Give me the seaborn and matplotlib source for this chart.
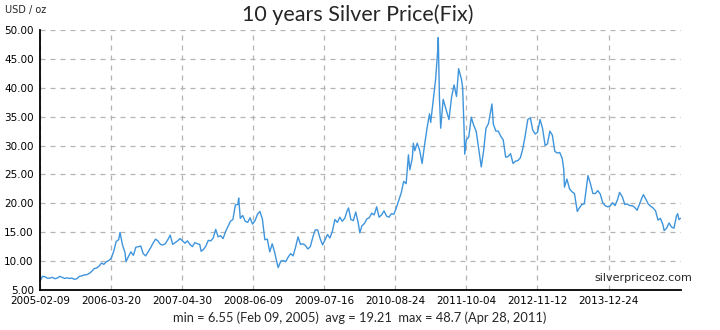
import matplotlib
matplotlib.use("Agg")
import matplotlib.pyplot as plt
import matplotlib.dates as mdates
import pandas as pd
import seaborn as sns

# Silver price (USD / oz), roughly fortnightly fixes
dates_2005 = ["2005-02-09", "2005-02-23", "2005-03-09", "2005-03-23", "2005-04-06", "2005-04-20",
              "2005-05-04", "2005-05-18", "2005-06-01", "2005-06-15", "2005-06-29", "2005-07-13",
              "2005-07-27", "2005-08-10", "2005-08-24", "2005-09-07", "2005-09-21", "2005-10-05",
              "2005-10-19", "2005-11-02", "2005-11-16", "2005-11-30", "2005-12-14", "2005-12-28"]
price_2005 = [6.55, 7.35, 7.30, 7.05, 7.05, 7.20, 6.95, 7.05, 7.35, 7.20, 7.00, 7.10,
              7.00, 7.05, 6.85, 6.95, 7.35, 7.45, 7.60, 7.65, 7.85, 8.20, 8.70, 8.80]

dates_2006 = ["2006-01-11", "2006-01-25", "2006-02-08", "2006-02-22", "2006-03-08", "2006-03-22",
              "2006-04-05", "2006-04-19", "2006-05-03", "2006-05-11", "2006-05-25", "2006-06-08",
              "2006-06-14", "2006-06-28", "2006-07-12", "2006-07-26", "2006-08-09", "2006-08-23",
              "2006-09-06", "2006-09-20", "2006-10-04", "2006-10-18", "2006-11-01", "2006-11-15",
              "2006-11-29", "2006-12-13", "2006-12-27"]
price_2006 = [9.10, 9.65, 9.45, 9.90, 10.10, 10.50, 11.70, 13.40, 13.70, 14.94, 12.80, 11.50,
              9.90, 10.80, 11.60, 11.00, 12.40, 12.50, 12.60, 11.30, 10.90, 11.60, 12.30, 13.10,
              13.80, 13.50, 12.90]

dates_2007 = ["2007-01-10", "2007-01-24", "2007-02-07", "2007-02-21", "2007-03-07", "2007-03-21",
              "2007-04-04", "2007-04-18", "2007-05-02", "2007-05-16", "2007-05-30", "2007-06-13",
              "2007-06-27", "2007-07-11", "2007-07-25", "2007-08-08", "2007-08-16", "2007-08-29",
              "2007-09-12", "2007-09-26", "2007-10-10", "2007-10-24", "2007-11-07", "2007-11-21",
              "2007-12-05", "2007-12-19"]
price_2007 = [12.80, 13.00, 13.70, 14.50, 12.90, 13.20, 13.50, 13.90, 13.50, 13.10, 13.50, 12.90,
              12.50, 13.20, 13.00, 12.90, 11.70, 12.00, 12.60, 13.60, 13.50, 14.00, 15.50, 14.20,
              14.40, 13.90]

dates_2008 = ["2008-01-02", "2008-01-16", "2008-01-30", "2008-02-13", "2008-02-27", "2008-03-12",
              "2008-03-17", "2008-03-26", "2008-04-09", "2008-04-23", "2008-05-07", "2008-05-21",
              "2008-06-04", "2008-06-18", "2008-07-02", "2008-07-16", "2008-07-30", "2008-08-13",
              "2008-08-27", "2008-09-10", "2008-09-24", "2008-10-08", "2008-10-22", "2008-10-28",
              "2008-11-12", "2008-11-26", "2008-12-10", "2008-12-24"]
price_2008 = [15.10, 16.00, 16.90, 17.20, 19.70, 19.80, 20.92, 17.40, 17.90, 16.90, 16.70, 17.50,
              16.40, 17.00, 18.10, 18.60, 17.30, 13.70, 13.80, 11.60, 13.00, 11.50, 9.60, 8.88,
              10.00, 10.10, 9.90, 10.70]

dates_2009 = ["2009-01-07", "2009-01-21", "2009-02-04", "2009-02-18", "2009-03-04", "2009-03-18",
              "2009-04-01", "2009-04-15", "2009-04-29", "2009-05-13", "2009-05-27", "2009-06-10",
              "2009-06-24", "2009-07-08", "2009-07-22", "2009-08-05", "2009-08-19", "2009-09-02",
              "2009-09-16", "2009-09-30", "2009-10-14", "2009-10-28", "2009-11-11", "2009-11-25",
              "2009-12-03", "2009-12-16", "2009-12-30"]
price_2009 = [11.30, 10.90, 12.40, 14.20, 12.90, 13.00, 12.70, 12.10, 12.50, 14.10, 15.40, 15.40,
              13.90, 12.80, 13.70, 14.60, 14.00, 15.20, 17.20, 16.70, 17.60, 16.90, 17.40, 18.70,
              19.20, 17.20, 17.00]

dates_2010 = ["2010-01-13", "2010-01-27", "2010-02-05", "2010-02-17", "2010-03-03", "2010-03-17",
              "2010-03-31", "2010-04-14", "2010-04-28", "2010-05-12", "2010-05-26", "2010-06-09",
              "2010-06-23", "2010-07-07", "2010-07-21", "2010-08-04", "2010-08-18", "2010-09-01",
              "2010-09-15", "2010-09-29", "2010-10-13", "2010-10-27", "2010-11-09", "2010-11-17",
              "2010-12-01", "2010-12-07", "2010-12-15", "2010-12-29"]
price_2010 = [18.50, 16.60, 14.90, 16.10, 16.50, 17.30, 17.50, 18.30, 18.00, 19.40, 17.60, 18.00,
              18.70, 17.80, 17.60, 18.20, 18.10, 19.20, 20.50, 21.80, 23.80, 23.40, 28.40, 25.80,
              27.80, 30.40, 29.10, 30.40]

dates_2011 = ["2011-01-12", "2011-01-26", "2011-02-09", "2011-02-23", "2011-03-09", "2011-03-16",
              "2011-03-30", "2011-04-13", "2011-04-25", "2011-04-28", "2011-05-05", "2011-05-12",
              "2011-05-26", "2011-06-09", "2011-06-28", "2011-07-13", "2011-07-27", "2011-08-10",
              "2011-08-22", "2011-09-07", "2011-09-14", "2011-09-23", "2011-09-26", "2011-10-05",
              "2011-10-19", "2011-11-02", "2011-11-16", "2011-11-30", "2011-12-14", "2011-12-29"]
price_2011 = [29.20, 26.90, 30.10, 33.00, 35.50, 34.00, 37.80, 41.50, 46.50, 48.70, 38.00, 33.00,
              38.00, 36.50, 34.50, 38.40, 40.50, 38.50, 43.30, 41.50, 40.00, 32.00, 28.50, 31.00,
              31.50, 34.90, 33.50, 32.50, 29.50, 26.30]

dates_2012 = ["2012-01-11", "2012-01-25", "2012-02-08", "2012-02-28", "2012-03-07", "2012-03-21",
              "2012-04-04", "2012-04-18", "2012-05-02", "2012-05-16", "2012-05-30", "2012-06-13",
              "2012-06-27", "2012-07-11", "2012-07-25", "2012-08-08", "2012-08-22", "2012-09-05",
              "2012-09-19", "2012-10-04", "2012-10-17", "2012-10-31", "2012-11-14", "2012-11-28",
              "2012-12-12", "2012-12-27"]
price_2012 = [29.00, 33.00, 33.80, 37.20, 33.70, 32.50, 32.50, 31.60, 31.00, 28.00, 28.10, 28.60,
              26.90, 27.30, 27.40, 27.90, 29.50, 31.80, 34.50, 34.80, 32.70, 32.00, 32.30, 34.50,
              33.00, 30.00]

dates_2013 = ["2013-01-09", "2013-01-23", "2013-02-06", "2013-02-20", "2013-03-06", "2013-03-20",
              "2013-04-03", "2013-04-12", "2013-04-16", "2013-04-30", "2013-05-15", "2013-05-29",
              "2013-06-12", "2013-06-28", "2013-07-10", "2013-07-24", "2013-08-07", "2013-08-28",
              "2013-09-11", "2013-09-25", "2013-10-09", "2013-10-23", "2013-11-06", "2013-11-20",
              "2013-12-04", "2013-12-18", "2013-12-31"]
price_2013 = [30.30, 32.50, 31.80, 29.00, 28.70, 28.80, 27.80, 25.90, 22.80, 24.20, 22.50, 22.00,
              21.70, 18.60, 19.20, 19.80, 19.90, 24.80, 23.40, 21.70, 21.70, 22.20, 21.60, 20.10,
              19.60, 19.40, 19.50]

dates_2014 = ["2014-01-15", "2014-01-29", "2014-02-12", "2014-02-24", "2014-03-12", "2014-03-26",
              "2014-04-09", "2014-04-23", "2014-05-07", "2014-05-21", "2014-06-04", "2014-06-18",
              "2014-07-02", "2014-07-10", "2014-07-24", "2014-08-06", "2014-08-20", "2014-09-03",
              "2014-09-17", "2014-10-01", "2014-10-15", "2014-10-29", "2014-11-05", "2014-11-19",
              "2014-12-03", "2014-12-17", "2014-12-31"]
price_2014 = [20.10, 19.60, 20.60, 21.90, 21.10, 19.80, 19.90, 19.60, 19.60, 19.30, 18.80, 19.90,
              21.00, 21.50, 20.70, 19.90, 19.50, 19.20, 18.70, 17.10, 17.40, 16.30, 15.28, 15.70,
              16.60, 15.90, 15.70]

dates_2015 = ["2015-01-14", "2015-01-21", "2015-01-28", "2015-02-06"]
price_2015 = [17.80, 18.20, 17.20, 17.40]

tick_dates = ["2005-02-09", "2006-03-20", "2007-04-30", "2008-06-09", "2009-07-16",
              "2010-08-24", "2011-10-04", "2012-11-12", "2013-12-24"]
y_ticks = [5, 10, 15, 20, 25, 30, 35, 40, 45, 50]

title_text = "10 years Silver Price(Fix)"
unit_text = "USD / oz"
source_text = "silverpriceoz.com"
stats_text = "min = 6.55 (Feb 09, 2005)  avg = 19.21  max = 48.7 (Apr 28, 2011)"

all_dates = (dates_2005 + dates_2006 + dates_2007 + dates_2008 + dates_2009 + dates_2010
             + dates_2011 + dates_2012 + dates_2013 + dates_2014 + dates_2015)
all_prices = (price_2005 + price_2006 + price_2007 + price_2008 + price_2009 + price_2010
              + price_2011 + price_2012 + price_2013 + price_2014 + price_2015)
df = pd.DataFrame({"date": pd.to_datetime(all_dates), "price": all_prices})

sns.set_style("white")
plt.rcParams["font.family"] = ["DejaVu Sans"]

fig = plt.figure(figsize=(7.2, 3.3), dpi=100)
ax = fig.add_axes([40 / 720, 1 - 290 / 330, 641 / 720, 260 / 330])

sns.lineplot(data=df, x="date", y="price", ax=ax, color="#3f95dc", linewidth=1.0)

ax.set_xlim(pd.Timestamp("2005-02-09"), pd.Timestamp("2015-02-09"))
ax.set_ylim(5, 50)
ax.set_xticks(pd.to_datetime(tick_dates))
ax.xaxis.set_major_formatter(mdates.DateFormatter("%Y-%m-%d"))
ax.set_yticks(y_ticks)
ax.set_yticklabels([f"{v:.2f}" for v in y_ticks])
ax.set_xlabel("")
ax.set_ylabel("")

ax.grid(True, color="#b4b4b4", linestyle=(0, (4, 4)), linewidth=0.9)
for s in ("top", "right"):
    ax.spines[s].set_visible(False)
for s in ("left", "bottom"):
    ax.spines[s].set_color("black")
    ax.spines[s].set_linewidth(1.3)

ax.tick_params(axis="both", direction="out", length=3, width=1.2, color="black",
               labelsize=7.5, pad=1.5, labelcolor="black")

fig.text(358 / 720, 1 - 15 / 330, title_text, ha="center", va="center",
         fontsize=15.5, family="Lato")
fig.text(5 / 720, 1 - 10 / 330, unit_text, ha="left", va="center", fontsize=7)
fig.text(692 / 720, 1 - 278 / 330, source_text, ha="right", va="center", fontsize=8)
fig.text(360 / 720, 1 - 318 / 330, stats_text, ha="center", va="center",
         fontsize=9.3, family="Lato")

fig.savefig("out.png", dpi=100)
